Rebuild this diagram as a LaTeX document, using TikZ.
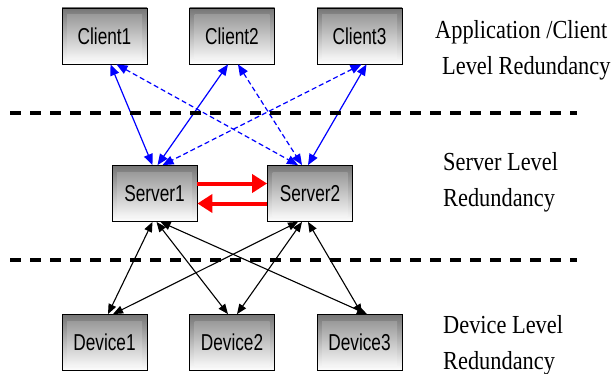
\documentclass[tikz,border=0pt]{standalone}
\usepackage{fontspec}
\setmainfont{Liberation Serif}[FakeStretch=0.86]
\newfontfamily\boxfont{Liberation Sans}[FakeStretch=0.75]
\usetikzlibrary{arrows.meta}

\begin{document}
\begin{tikzpicture}[x=1pt,y=-1pt,
  unit/.style={draw, line width=0.8pt, minimum width=85pt, minimum height=56pt, inner sep=0pt,
    top color=black!54, bottom color=white,
    path picture={\shade[top color=black!45, bottom color=white]
      ([shift={(5pt,-7pt)}]path picture bounding box.north west) rectangle
      ([shift={(-5pt,5pt)}]path picture bounding box.south east);},
    font=\boxfont\fontsize{23}{26}\selectfont},
  bluelink/.style={blue, line width=1.2pt, {Triangle[length=11pt,width=9pt]}-{Triangle[length=11pt,width=9pt]}},
  bluedash/.style={bluelink, dash pattern=on 5pt off 3pt},
  blacklink/.style={black, line width=1.1pt, {Triangle[length=10pt,width=8pt]}-{Triangle[length=10pt,width=8pt]}},
  redlink/.style={red, line width=4pt, -{Triangle[length=15pt,width=18pt]}},
  level/.style={line width=4pt, dash pattern=on 11pt off 9pt},
  tag/.style={anchor=north west, inner sep=0pt, align=left, font=\fontsize{26}{36}\selectfont}]
\useasboundingbox (0,0) rectangle (612,374);
% clients
\node[unit] (c1) at (104.5,36) {Client1};
\node[unit] (c2) at (232,36) {Client2};
\node[unit] (c3) at (359.5,36) {Client3};
% servers
\node[unit] (s1) at (154.5,193.5) {Server1};
\node[unit] (s2) at (310,193.5) {Server2};
% devices
\node[unit] (d1) at (104.5,342.5) {Device1};
\node[unit] (d2) at (232,342.5) {Device2};
\node[unit] (d3) at (359.5,342.5) {Device3};
% client - server links
\draw[bluelink] ([xshift=6pt]c1.south) -- ([xshift=-2pt]s1.north);
\draw[bluedash] ([xshift=12pt]c1.south) -- ([xshift=-12pt]s2.north);
\draw[bluelink] ([xshift=-4pt]c2.south) -- ([xshift=3pt]s1.north);
\draw[bluedash] ([xshift=6pt]c2.south) -- ([xshift=-8pt]s2.north);
\draw[bluedash] ([xshift=2pt]c3.south) -- ([xshift=8pt]s1.north);
\draw[bluelink] ([xshift=7pt]c3.south) -- ([xshift=-2pt]s2.north);
% server - server
\draw[redlink] ([yshift=10pt]s1.east) -- ([yshift=10pt]s2.west);
\draw[redlink] ([yshift=-10pt]s2.west) -- ([yshift=-10pt]s1.east);
% server - device links
\draw[blacklink] ([xshift=-2pt]s1.south) -- ([xshift=3.5pt]d1.north);
\draw[blacklink] ([xshift=2pt]s1.south) -- ([xshift=-4pt]d2.north);
\draw[blacklink] ([xshift=6pt]s1.south) -- ([xshift=7.5pt]d3.north);
\draw[blacklink] ([xshift=-12pt]s2.south) -- ([xshift=8.5pt]d1.north);
\draw[blacklink] ([xshift=-8pt]s2.south) -- ([xshift=5pt]d2.north);
\draw[blacklink] ([xshift=-2pt]s2.south) -- ([xshift=2.5pt]d3.north);
% level separators
\draw[level] (10,113) -- (577,113);
\draw[level] (10,260) -- (577,260);
% level names
\node[tag] (apptag) at (435,20) {Application /Client\\\hspace*{7pt}Level Redundancy};
\node[tag] (srvtag) at (443,152) {Server Level\\Redundancy};
\node[tag] (devtag) at (443,315) {Device Level\\Redundancy};
\end{tikzpicture}
\end{document}
